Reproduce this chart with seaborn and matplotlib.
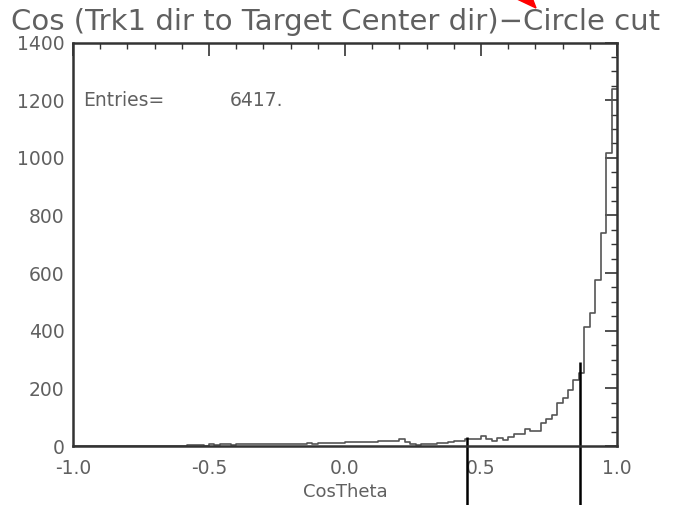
import numpy as np
import pandas as pd
import matplotlib
matplotlib.use("Agg")
import matplotlib.pyplot as plt
import matplotlib.ticker as mticker
from matplotlib.patches import Polygon
import seaborn as sns

# 100 bins of width 0.02 over cos(theta) in [-1, 1]
bin_edges = [round(-1.0 + 0.02 * i, 2) for i in range(101)]

counts_neg = [0] * 21 + [2, 2, 2, 0]                       # -1.00 .. -0.50
counts_mid = [6, 5, 6, 6, 5, 6, 6, 7, 6, 6, 7, 6, 7,
              7, 8, 7, 8, 8, 9, 8, 9, 10, 10, 11, 12]       # -0.50 .. 0.00
counts_pos = [14, 13, 15, 14, 13, 15, 16, 17, 16, 18, 24, 15,   # 0.00 .. 0.24
              6, 5, 7, 6, 8, 9, 11, 13, 17]                 # 0.24 .. 0.42
counts_tail = [18, 23, 23, 23,                              # 0.42 .. 0.50
               35, 23, 17, 27, 21, 32, 41, 41, 58, 53, 53, 79, 93,
               108, 148, 165, 194, 229, 253, 413, 461, 576, 739,
               1016, 1240]                                  # 0.50 .. 1.00
counts = counts_neg + counts_mid + counts_pos + counts_tail

entries_label = "Entries="
entries_value = "6417."
title_text = "Cos (Trk1 dir to Target Center dir)\u2212Circle cut"
x_label = "CosTheta"

# marker lines below the plot (x position, top in counts)
marker_x = [0.449, 0.864]
marker_top = [31, 291]

edges = np.array(bin_edges)
centers = 0.5 * (edges[:-1] + edges[1:])
df = pd.DataFrame({"cos": centers, "n": counts})

sns.set_style("white")
plt.rcParams["font.family"] = ["DejaVu Sans"]

W, H = 680, 505
AX_L, AX_R, AX_T, AX_B = 73, 617, 42.5, 446
fig = plt.figure(figsize=(W / 100, H / 100), dpi=100)
ax = fig.add_axes([AX_L / W, 1 - AX_B / H, (AX_R - AX_L) / W, (AX_B - AX_T) / H])

sns.histplot(data=df, x="cos", weights="n", bins=bin_edges, element="step",
             fill=False, color="#555555", linewidth=1.2, ax=ax)

ax.set_xlim(-1.0, 1.0)
ax.set_ylim(0, 1400)
ax.set_ylabel("")
ax.set_xlabel(x_label, fontsize=13, color="#606060", labelpad=4)

ax.xaxis.set_major_locator(mticker.MultipleLocator(0.5))
ax.xaxis.set_minor_locator(mticker.MultipleLocator(0.1))
ax.yaxis.set_major_locator(mticker.MultipleLocator(200))
ax.yaxis.set_minor_locator(mticker.MultipleLocator(50))
ax.xaxis.set_major_formatter(mticker.FormatStrFormatter("%.1f"))

ax.tick_params(which="both", direction="in", top=True, right=True,
               color="#333333", labelcolor="#606060", labelsize=13.5)
ax.tick_params(which="major", length=9, width=1.2)
ax.tick_params(axis="x", which="major", pad=9)
ax.tick_params(axis="y", which="major", pad=6)
ax.tick_params(which="minor", length=4, width=1.0)

for s in ax.spines.values():
    s.set_color("#333333")
    s.set_linewidth(1.8)

fig.canvas.draw()
ylabels = ax.get_yticklabels()
ylabels[0].set_va("bottom")
ylabels[-1].set_va("top")

fig.text(336 / W, 1 - 22 / H, title_text, ha="center", va="center",
         fontsize=21, color="#606060")

ax_w, ax_h = AX_R - AX_L, AX_B - AX_T
text_y = 1 - (101 - AX_T) / ax_h
ax.text((83 - AX_L) / ax_w, text_y, entries_label, transform=ax.transAxes,
        ha="left", va="center", fontsize=13.5, color="#606060")
ax.text((230 - AX_L) / ax_w, text_y, entries_value, transform=ax.transAxes,
        ha="left", va="center", fontsize=13.5, color="#606060")

ax.vlines(marker_x, -260, marker_top, colors="black", linewidth=1.8, clip_on=False)

arrow = Polygon([(536 / W, 1 - 8 / H), (517 / W, 1 + 1 / H), (531 / W, 1 + 5 / H)],
                closed=True, transform=fig.transFigure, color="red", clip_on=False)
fig.add_artist(arrow)

fig.savefig("out.png", dpi=100)
